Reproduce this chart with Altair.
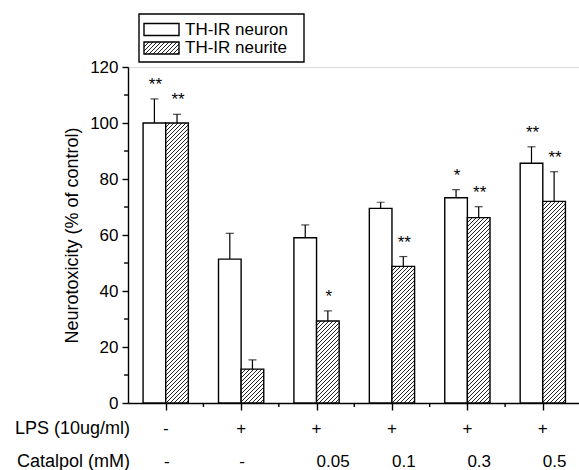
import altair as alt
import pandas as pd

# ---- data ----
groups = ["Control", "LPS", "0.05", "0.1", "0.3", "0.5"]
lps_row = ["-", "+", "+", "+", "+", "+"]
catalpol_row = ["-", "-", "0.05", "0.1", "0.3", "0.5"]
neuron = [100.0, 51.4, 59.0, 69.5, 73.3, 85.6]
neuron_err = [8.6, 9.2, 4.6, 2.2, 2.9, 5.9]
neurite = [100.0, 12.1, 29.3, 48.8, 66.2, 72.0]
neurite_err = [3.1, 3.3, 3.6, 3.5, 3.9, 10.6]
neuron_sig = ["**", "", "", "", "*", "**"]
neurite_sig = ["**", "", "*", "**", "**", "**"]
series_names = ["TH-IR neuron", "TH-IR neurite"]
row_names = ["LPS (10ug/ml)", "Catalpol (mM)"]
y_ticks = [0, 20, 40, 60, 80, 100, 120]
y_minor = [10, 30, 50, 70, 90, 110]

FONT = "Liberation Sans"
W, H = 451, 336
YMAX = 120
BW = 0.3  # bar width in group units

rows = []
for i in range(len(groups)):
    rows.append(dict(idx=i, series=series_names[0], lo=i - BW, hi=i, mid=i - BW / 2,
                     value=neuron[i], top=neuron[i] + neuron_err[i], sig=neuron_sig[i]))
    rows.append(dict(idx=i, series=series_names[1], lo=i, hi=i + BW, mid=i + BW / 2,
                     value=neurite[i], top=neurite[i] + neurite_err[i], sig=neurite_sig[i]))
df = pd.DataFrame(rows)

grp = pd.DataFrame(dict(idx=list(range(len(groups))), lps=lps_row, cat=catalpol_row))
grp["isnum"] = grp["cat"] != "-"
minor_x = pd.DataFrame(dict(x=[i + 0.5 for i in range(len(groups) - 1)]))
ymin_df = pd.DataFrame(dict(y=y_minor))

xs = alt.Scale(domain=[-0.5, 5.48], nice=False, zero=False)
ys = alt.Scale(domain=[0, YMAX], nice=False, zero=True)


def hatch(w, h, period=4.0, line=1.2, color="#222222"):
    """Linear gradient that draws '/' hatching on a w x h pixel box."""
    k = (1 / h + 1 / w) / (1 / h ** 2 + 1 / w ** 2)
    n = (w + h) / period
    stops = []
    i = 0
    while i < n:
        a = i / n
        b = min((i + line / period) / n, 1.0)
        c = min((i + 1) / n, 1.0)
        stops += [alt.GradientStop(offset=a, color=color),
                  alt.GradientStop(offset=b, color=color),
                  alt.GradientStop(offset=b, color="white"),
                  alt.GradientStop(offset=c, color="white")]
        i += 1
    return alt.Gradient(gradient="linear", stops=stops, x1=0, y1=0, x2=k / h, y2=k / w)


base = alt.Chart(df)
px_per_unit_x = W / (5.48 + 0.5)
bar_w_px = BW * px_per_unit_x

yaxis = alt.Axis(values=y_ticks, tickSize=6, labelPadding=4, labelFont=FONT, labelFontSize=17,
                 labelColor="black", domainColor="black", domainWidth=1.4, tickColor="black",
                 tickWidth=1.4, grid=False, title="Neurotoxicity (% of control)",
                 titleFont=FONT, titleFontSize=18, titleFontWeight="normal", titleColor="black",
                 titleX=-47, titleY=H / 2, titleAlign="center", titleBaseline="bottom", titleAngle=270)
xaxis = alt.Axis(values=list(range(len(groups))), labels=False, tickSize=7, tickColor="black",
                 tickWidth=1.4, domainColor="black", domainWidth=1.4, grid=False, title=None)


def X(field):
    return alt.X(field, scale=xs, axis=xaxis)


def Y(field):
    return alt.Y(field, scale=ys, axis=yaxis)


neuron_bars = base.transform_filter(alt.datum.series == series_names[0]).mark_bar(
    fill="white", stroke="black", strokeWidth=1.4
).encode(x=X("lo:Q"), x2="hi:Q", y=Y("value:Q"), y2=alt.datum(0))

neurite_layers = []
for i in range(len(groups)):
    h_px = neurite[i] * H / YMAX
    neurite_layers.append(
        base.transform_filter((alt.datum.series == series_names[1]) & (alt.datum.idx == i))
        .mark_bar(fill=hatch(bar_w_px, h_px), stroke="black", strokeWidth=1.4)
        .encode(x=X("lo:Q"), x2="hi:Q", y=Y("value:Q"), y2=alt.datum(0))
    )

err = base.mark_rule(color="black", strokeWidth=1.2).encode(
    x=X("mid:Q"), y=Y("value:Q"), y2="top:Q")
cap = base.mark_tick(orient="horizontal", color="black", size=8, thickness=1.2).encode(
    x=X("mid:Q"), y=Y("top:Q"))
stars = base.transform_filter(alt.datum.sig != "").mark_text(
    font=FONT, fontSize=17, color="black", baseline="middle", align="center", dy=-14, dx=1
).encode(x=X("mid:Q"), y=Y("top:Q"), text="sig:N")

xminor = alt.Chart(minor_x).mark_rule(color="black", strokeWidth=1.4).encode(
    x=X("x:Q"), y=alt.value(H), y2=alt.value(H + 4))
yminor = alt.Chart(ymin_df).mark_rule(color="black", strokeWidth=1.4).encode(
    y=Y("y:Q"), x=alt.value(0), x2=alt.value(-4))

gbase = alt.Chart(grp)
lps_text = gbase.mark_text(font=FONT, fontSize=17, color="black", baseline="middle", align="center").encode(
    x=X("idx:Q"), y=alt.value(H + 26), text="lps:N")
cat_dash = gbase.transform_filter(~alt.datum.isnum).mark_text(
    font=FONT, fontSize=17, color="black", baseline="middle", align="center", dx=1).encode(
    x=X("idx:Q"), y=alt.value(H + 59), text="cat:N")
cat_num = gbase.transform_filter(alt.datum.isnum).mark_text(
    font=FONT, fontSize=17, color="black", baseline="middle", align="left").encode(
    x=X("idx:Q"), y=alt.value(H + 59), text="cat:N")

one = pd.DataFrame(dict(a=[0]))
row_lps = alt.Chart(one).mark_text(font=FONT, fontSize=18, color="black", baseline="middle",
                                   align="right", text=row_names[0]).encode(
    x=alt.value(2), y=alt.value(H + 26))
row_cat = alt.Chart(one).mark_text(font=FONT, fontSize=18, color="black", baseline="middle",
                                   align="right", text=row_names[1]).encode(
    x=alt.value(2), y=alt.value(H + 59))

# legend (drawn in the top padding)
leg_box = alt.Chart(one).mark_rect(fill="white", stroke="black", strokeWidth=1.4).encode(
    x=alt.value(11), x2=alt.value(176), y=alt.value(-53), y2=alt.value(-5))
leg_sw1 = alt.Chart(one).mark_rect(fill="white", stroke="black", strokeWidth=1.4).encode(
    x=alt.value(16), x2=alt.value(51), y=alt.value(-43.5), y2=alt.value(-31.5))
leg_sw2 = alt.Chart(one).mark_rect(fill=hatch(35, 12), stroke="black", strokeWidth=1.4).encode(
    x=alt.value(16), x2=alt.value(51), y=alt.value(-25), y2=alt.value(-13))
leg_t1 = alt.Chart(one).mark_text(font=FONT, fontSize=17, color="black", baseline="middle",
                                  align="left", text=series_names[0]).encode(
    x=alt.value(57), y=alt.value(-37.5))
leg_t2 = alt.Chart(one).mark_text(font=FONT, fontSize=17, color="black", baseline="middle",
                                  align="left", text=series_names[1]).encode(
    x=alt.value(57), y=alt.value(-19))

chart = alt.layer(
    neuron_bars, *neurite_layers, err, cap, stars, xminor, yminor,
    lps_text, cat_dash, cat_num, row_lps, row_cat, leg_box, leg_sw1, leg_sw2, leg_t1, leg_t2
).properties(
    width=W, height=H,
    autosize=alt.AutoSizeParams(type="none"),
    padding={"left": 128, "top": 67, "right": 0, "bottom": 67},
).configure_view(stroke=None).configure(background="white")

chart.save("out.html", embed_options={"renderer": "svg", "actions": False})
